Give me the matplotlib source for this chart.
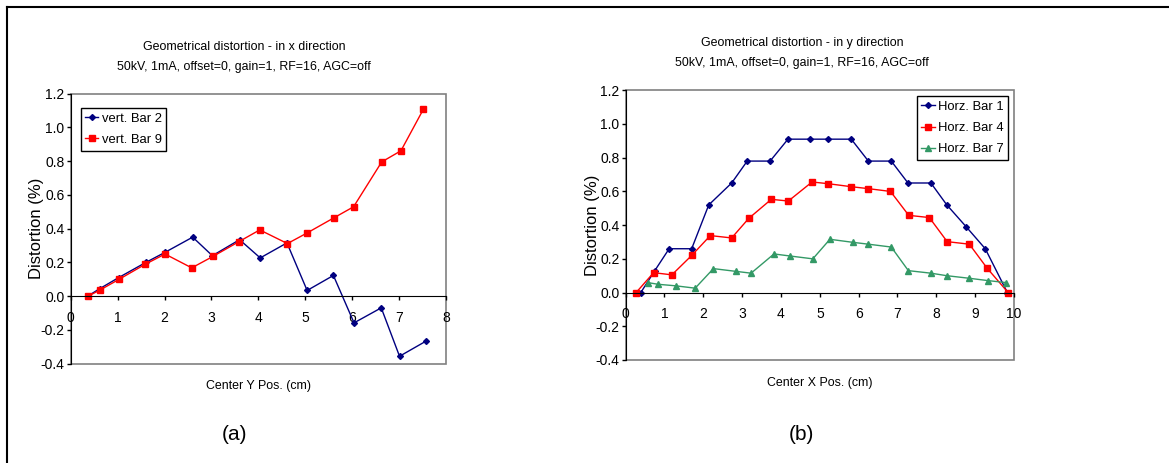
import matplotlib
matplotlib.use("Agg")
import matplotlib.pyplot as plt
from matplotlib.lines import Line2D
from matplotlib.patches import Rectangle

plt.rcParams['font.family'] = ['Liberation Sans', 'DejaVu Sans']

# --- (a) distortion in x direction ---
ypos_bar2 = [0.36, 0.62, 1.02, 1.60, 2.01, 2.60, 3.02, 3.60, 4.04, 4.61, 5.04, 5.60, 6.04, 6.62, 7.01, 7.57]
dist_bar2 = [0.00, 0.045, 0.11, 0.20, 0.26, 0.35, 0.24, 0.335, 0.227, 0.316, 0.034, 0.123, -0.158, -0.069, -0.356, -0.267]
ypos_bar9 = [0.37, 0.62, 1.03, 1.58, 2.01, 2.58, 3.04, 3.59, 4.03, 4.62, 5.04, 5.62, 6.03, 6.63, 7.04, 7.52]
dist_bar9 = [0.00, 0.036, 0.10, 0.188, 0.25, 0.168, 0.237, 0.324, 0.393, 0.312, 0.375, 0.466, 0.53, 0.796, 0.862, 1.109]

# --- (b) distortion in y direction ---
xpos_bar1 = [0.39, 0.75, 1.12, 1.70, 2.14, 2.73, 3.13, 3.72, 4.18, 4.76, 5.22, 5.81, 6.25, 6.84, 7.27, 7.86, 8.27, 8.77, 9.26, 9.83]
dist_bar1 = [0.00, 0.13, 0.26, 0.26, 0.52, 0.65, 0.78, 0.78, 0.91, 0.91, 0.91, 0.91, 0.78, 0.78, 0.65, 0.65, 0.52, 0.39, 0.26, 0.00]
xpos_bar4 = [0.27, 0.72, 1.19, 1.70, 2.18, 2.73, 3.17, 3.75, 4.19, 4.80, 5.21, 5.81, 6.23, 6.82, 7.29, 7.82, 8.28, 8.85, 9.31, 9.85]
dist_bar4 = [0.00, 0.118, 0.105, 0.22, 0.338, 0.324, 0.44, 0.553, 0.543, 0.656, 0.646, 0.628, 0.617, 0.60, 0.458, 0.445, 0.302, 0.287, 0.144, 0.00]
xpos_bar7 = [0.57, 0.84, 1.29, 1.79, 2.26, 2.83, 3.23, 3.82, 4.23, 4.82, 5.26, 5.85, 6.25, 6.84, 7.28, 7.86, 8.27, 8.84, 9.33, 9.80]
dist_bar7 = [0.059, 0.049, 0.04, 0.026, 0.142, 0.126, 0.115, 0.229, 0.217, 0.20, 0.316, 0.298, 0.287, 0.27, 0.13, 0.115, 0.10, 0.085, 0.071, 0.059]

yticks = [-0.4, -0.2, 0.0, 0.2, 0.4, 0.6, 0.8, 1.0, 1.2]
ytick_labels = ["-0.4", "-0.2", "0.0", "0.2", "0.4", "0.6", "0.8", "1.0", "1.2"]

NAVY = "#000080"
RED = "#FF0000"
GREEN = "#339966"
TICK_FS = 10
SMALL_FS = 8.9
LEG_FS = 9.4

fig = plt.figure(figsize=(11.69, 4.63), dpi=100)


def style_axes(ax, xmax, label_x):
    ax.set_xlim(0, xmax)
    ax.set_ylim(-0.4, 1.2)
    ax.set_yticks(yticks)
    ax.set_yticklabels(ytick_labels)
    ax.set_xticks(range(0, xmax + 1))
    ax.spines['bottom'].set_position(('data', 0))
    ax.spines['bottom'].set_color('black')
    ax.spines['left'].set_color('black')
    ax.spines['top'].set_visible(False)
    ax.spines['right'].set_visible(False)
    ax.add_patch(Rectangle((0, 0), 1, 1, transform=ax.transAxes, fill=False,
                           edgecolor='#808080', lw=1.2, clip_on=False, zorder=0.5))
    ax.tick_params(direction='out', length=3, width=1, labelsize=TICK_FS)
    ax.tick_params(axis='y', pad=1.5)
    ax.tick_params(axis='x', pad=7.5)
    ax.set_ylabel("Distortion (%)", fontsize=12)
    ax.yaxis.set_label_coords(label_x, 0.5)


def add_legend(ax, loc, anchor):
    leg = ax.legend(loc=loc, bbox_to_anchor=anchor, fontsize=LEG_FS,
                    fancybox=False, framealpha=1, edgecolor='black', handlelength=1.0,
                    handletextpad=0.25, borderpad=0.35, labelspacing=0.7, borderaxespad=0)
    leg.get_frame().set_linewidth(1)


ax1 = fig.add_axes([0.0605, 0.2145, 0.321, 0.583])
ax1.plot(ypos_bar2, dist_bar2, color=NAVY, lw=1, marker='D', ms=3, label="vert. Bar 2")
ax1.plot(ypos_bar9, dist_bar9, color=RED, lw=1, marker='s', ms=4, label="vert. Bar 9")
style_axes(ax1, 8, -0.071)
add_legend(ax1, 'upper left', (0.027, 0.947))

ax2 = fig.add_axes([0.5352, 0.2225, 0.3322, 0.5825])
ax2.plot(xpos_bar1, dist_bar1, color=NAVY, lw=1, marker='D', ms=3, label="Horz. Bar 1")
ax2.plot(xpos_bar4, dist_bar4, color=RED, lw=1, marker='s', ms=4, label="Horz. Bar 4")
ax2.plot(xpos_bar7, dist_bar7, color=GREEN, lw=1, marker='^', ms=4, label="Horz. Bar 7")
style_axes(ax2, 10, -0.066)
add_legend(ax2, 'upper right', (0.9845, 0.978))

# titles, axis labels and panel letters
W, H = 1169, 463
fig.text(244 / W, 1 - 47 / H, "Geometrical distortion - in x direction", ha='center', va='center',
         fontsize=SMALL_FS)
fig.text(244 / W, 1 - 67 / H, "50kV, 1mA, offset=0, gain=1, RF=16, AGC=off", ha='center', va='center',
         fontsize=SMALL_FS)
fig.text(802 / W, 1 - 43 / H, "Geometrical distortion - in y direction", ha='center', va='center',
         fontsize=SMALL_FS)
fig.text(802 / W, 1 - 63 / H, "50kV, 1mA, offset=0, gain=1, RF=16, AGC=off", ha='center', va='center',
         fontsize=SMALL_FS)
fig.text(259 / W, 1 - 386 / H, "Center Y Pos. (cm)", ha='center', va='center', fontsize=SMALL_FS)
fig.text(820 / W, 1 - 383 / H, "Center X Pos. (cm)", ha='center', va='center', fontsize=SMALL_FS)
fig.text(235 / W, 1 - 435 / H, "(a)", ha='center', va='center', fontsize=15)
fig.text(801 / W, 1 - 435 / H, "(b)", ha='center', va='center', fontsize=15)

# outer frame lines
fig.add_artist(Line2D([7 / W, 7 / W], [0, 1 - 7 / H], color='black', lw=1.5))
fig.add_artist(Line2D([7 / W, 1], [1 - 7 / H, 1 - 7 / H], color='black', lw=1.5))

fig.savefig("out.png", dpi=100)
